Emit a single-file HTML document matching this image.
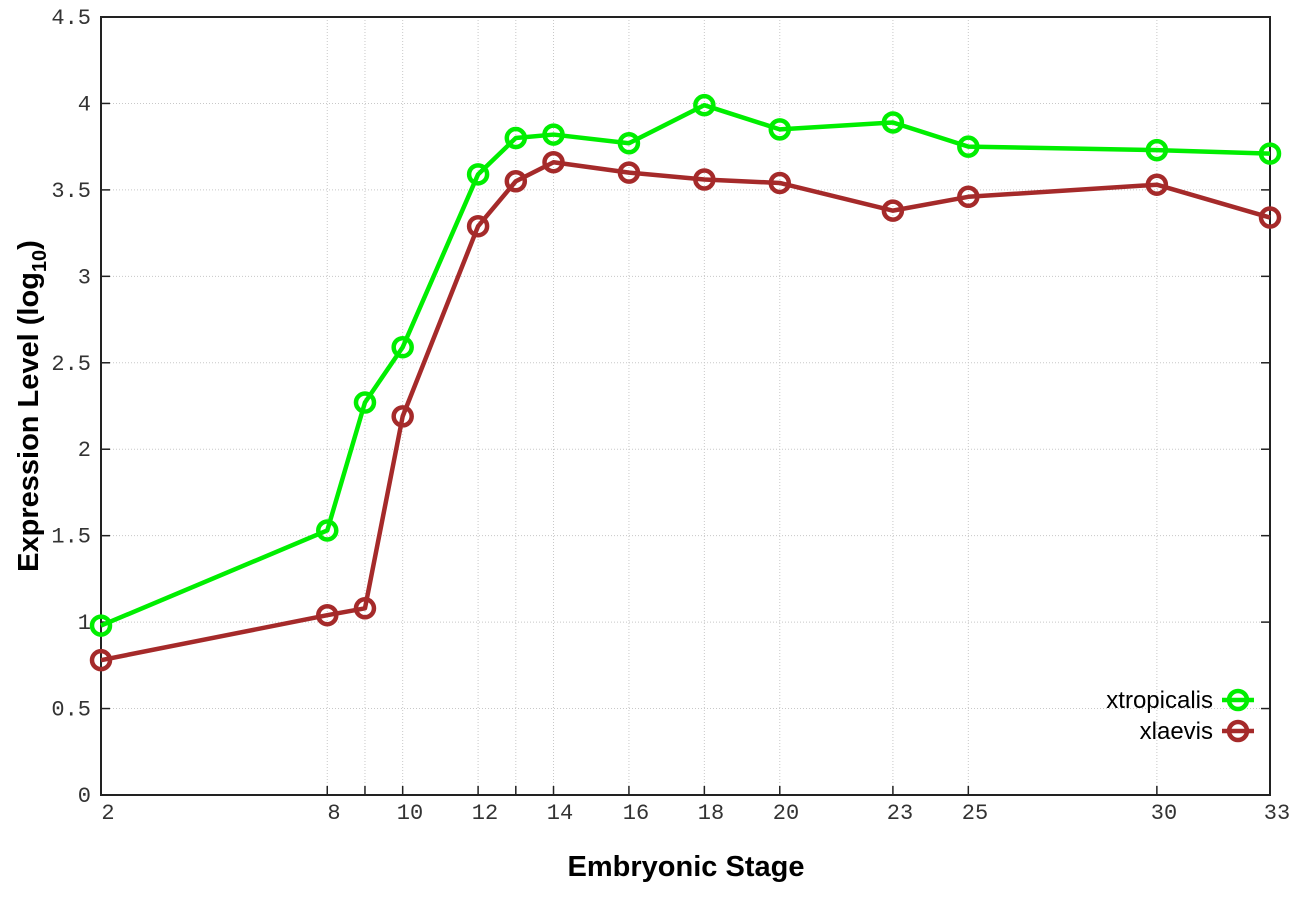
<!DOCTYPE html>
<html><head><meta charset="utf-8"><style>body{margin:0;background:#fff}</style></head>
<body>
<svg id="s" width="1296" height="907" xmlns="http://www.w3.org/2000/svg"></svg>
<script>
const L=101,R=1270,T=17,B=795;
const X=v=>L+(v-2)*(R-L)/31, Y=v=>B-v*(B-T)/4.5;
let h='';
const st=[2,8,9,10,12,13,14,16,18,20,23,25,30,33];
for(let i=1;i<9;i++){let y=Y(i*0.5);h+=`<line x1="${L}" x2="${R}" y1="${y}" y2="${y}" stroke="#c8c8c8" stroke-dasharray="1,2"/>`;
h+=`<line x1="${L}" x2="${L+9}" y1="${y}" y2="${y}" stroke="#222" stroke-width="1.5"/><line x1="${R-9}" x2="${R}" y1="${y}" y2="${y}" stroke="#222" stroke-width="1.5"/>`;}
for(const v of st.slice(1,-1)){let x=X(v);h+=`<line x1="${x}" x2="${x}" y1="${T}" y2="${B}" stroke="#c8c8c8" stroke-dasharray="1,2"/><line x1="${x}" x2="${x}" y1="${B-9}" y2="${B}" stroke="#222" stroke-width="1.5"/>`;}
h+=`<rect x="${L}" y="${T}" width="${R-L}" height="${B-T}" fill="none" stroke="#222" stroke-width="2"/>`;
const yl=['0','0.5','1','1.5','2','2.5','3','3.5','4','4.5'];
yl.forEach((t,i)=>{h+=`<text x="91" y="${Y(i*0.5)+7}" text-anchor="end" font-family="Liberation Mono,monospace" font-size="22" fill="#333">${t}</text>`});
const xl=[[2,108],[8,334],[10,410],[12,485],[14,560],[16,636],[18,711],[20,786],[23,900],[25,975],[30,1164],[33,1277]];
xl.forEach(([t,x])=>{h+=`<text x="${x}" y="819" text-anchor="middle" font-family="Liberation Mono,monospace" font-size="22" fill="#333">${t}</text>`});
h+=`<text x="686" y="876" text-anchor="middle" font-family="Liberation Sans,sans-serif" font-weight="bold" font-size="29">Embryonic Stage</text>`;
h+=`<text transform="translate(38,406) rotate(-90)" text-anchor="middle" font-family="Liberation Sans,sans-serif" font-weight="bold" font-size="29">Expression Level (log<tspan font-size="20" dy="8">10</tspan><tspan dy="-8">)</tspan></text>`;
const g=[0.98,1.53,2.27,2.59,3.59,3.80,3.82,3.77,3.99,3.85,3.89,3.75,3.73,3.71];
const r=[0.78,1.04,1.08,2.19,3.29,3.55,3.66,3.60,3.56,3.54,3.38,3.46,3.53,3.34];
function ser(d,c){let p=d.map((v,i)=>X(st[i])+','+Y(v)).join(' ');h+=`<polyline points="${p}" fill="none" stroke="${c}" stroke-width="4.5" stroke-linejoin="round"/>`;
d.forEach((v,i)=>{h+=`<circle cx="${X(st[i])}" cy="${Y(v)}" r="9" fill="none" stroke="${c}" stroke-width="4.5"/>`});}
ser(r,'#a52a2a');ser(g,'#00ee00');
function leg(y,c,t){h+=`<text x="1213" y="${y+8}" text-anchor="end" font-family="Liberation Sans,sans-serif" font-size="24">${t}</text><line x1="1222" x2="1254" y1="${y}" y2="${y}" stroke="${c}" stroke-width="4.5"/><circle cx="1238" cy="${y}" r="9" fill="none" stroke="${c}" stroke-width="4.5"/>`;}
leg(700,'#00ee00','xtropicalis');leg(731,'#a52a2a','xlaevis');
document.getElementById('s').innerHTML=h;
</script>
</body></html>
